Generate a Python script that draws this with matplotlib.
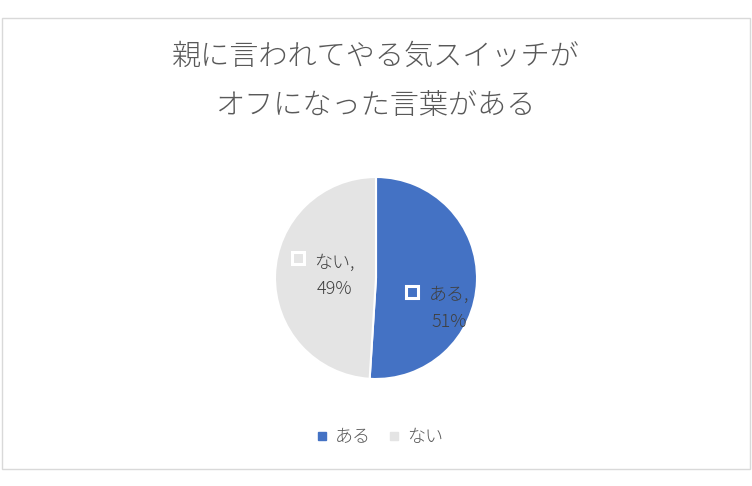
import matplotlib
matplotlib.use("Agg")
import matplotlib.pyplot as plt
from matplotlib.patches import Rectangle
from matplotlib.lines import Line2D

plt.rcParams['font.family'] = ['Noto Sans CJK JP', 'DejaVu Sans']

# data
labels = ['ある', 'ない']
values = [51, 49]
colors = ['#4472C4', '#E4E4E4']
title = '親に言われてやる気スイッチが\nオフになった言葉がある'

W, H = 752, 486
fig = plt.figure(figsize=(W / 100, H / 100), dpi=100)

# chart frame
fig.patches.append(Rectangle((2 / W, (H - 469) / H), 748 / W, 451 / H,
                             transform=fig.transFigure, fill=False,
                             edgecolor='#D9D9D9', linewidth=1))

# title
fig.text(376 / W, 1 - 57 / H, title.split('\n')[0], ha='center', va='center',
         fontsize=21, color='#595959', fontweight='light')
fig.text(376 / W, 1 - 106 / H, title.split('\n')[1], ha='center', va='center',
         fontsize=21, color='#595959', fontweight='light')

# pie axes: centre (376, 278), radius 101 px
cx, cy, r = 376, 278, 101
ax = fig.add_axes([(cx - r) / W, (H - cy - r) / H, 2 * r / W, 2 * r / H])
ax.pie(values, colors=colors, startangle=90, counterclock=False,
       wedgeprops=dict(edgecolor='white', linewidth=1.5))
ax.set_xlim(-1, 1)
ax.set_ylim(-1, 1)
ax.set_aspect('equal')
ax.set_clip_on(False)

# data labels (marker + name, value)
marker_pos = [(0.356, -0.139), (-0.772, 0.198)]
text_pos = [(0.72, -0.30), (-0.41, 0.02)]
for lab, v, c, mp, tp in zip(labels, values, colors, marker_pos, text_pos):
    ax.plot(mp[0], mp[1], marker='s', markersize=8, markerfacecolor=c,
            markeredgecolor='white', markeredgewidth=2.2, clip_on=False)
    ax.text(tp[0], tp[1], f'{lab},\n{v}%', ha='center', va='center',
            fontsize=13, color='#404040', linespacing=1.6, clip_on=False,
            fontweight='light')

# legend
handles = [Line2D([], [], linestyle='none', marker='s', markersize=6,
                  markerfacecolor=c, markeredgecolor=c) for c in colors]
fig.legend(handles, labels, loc='center', bbox_to_anchor=(378 / W, 1 - 437 / H),
           ncol=2, frameon=False, prop=dict(size=13, weight='light'),
           handletextpad=0.2, columnspacing=0.8, handlelength=1.0,
           labelcolor='#595959')

fig.savefig('out.png', dpi=100, facecolor='white')
